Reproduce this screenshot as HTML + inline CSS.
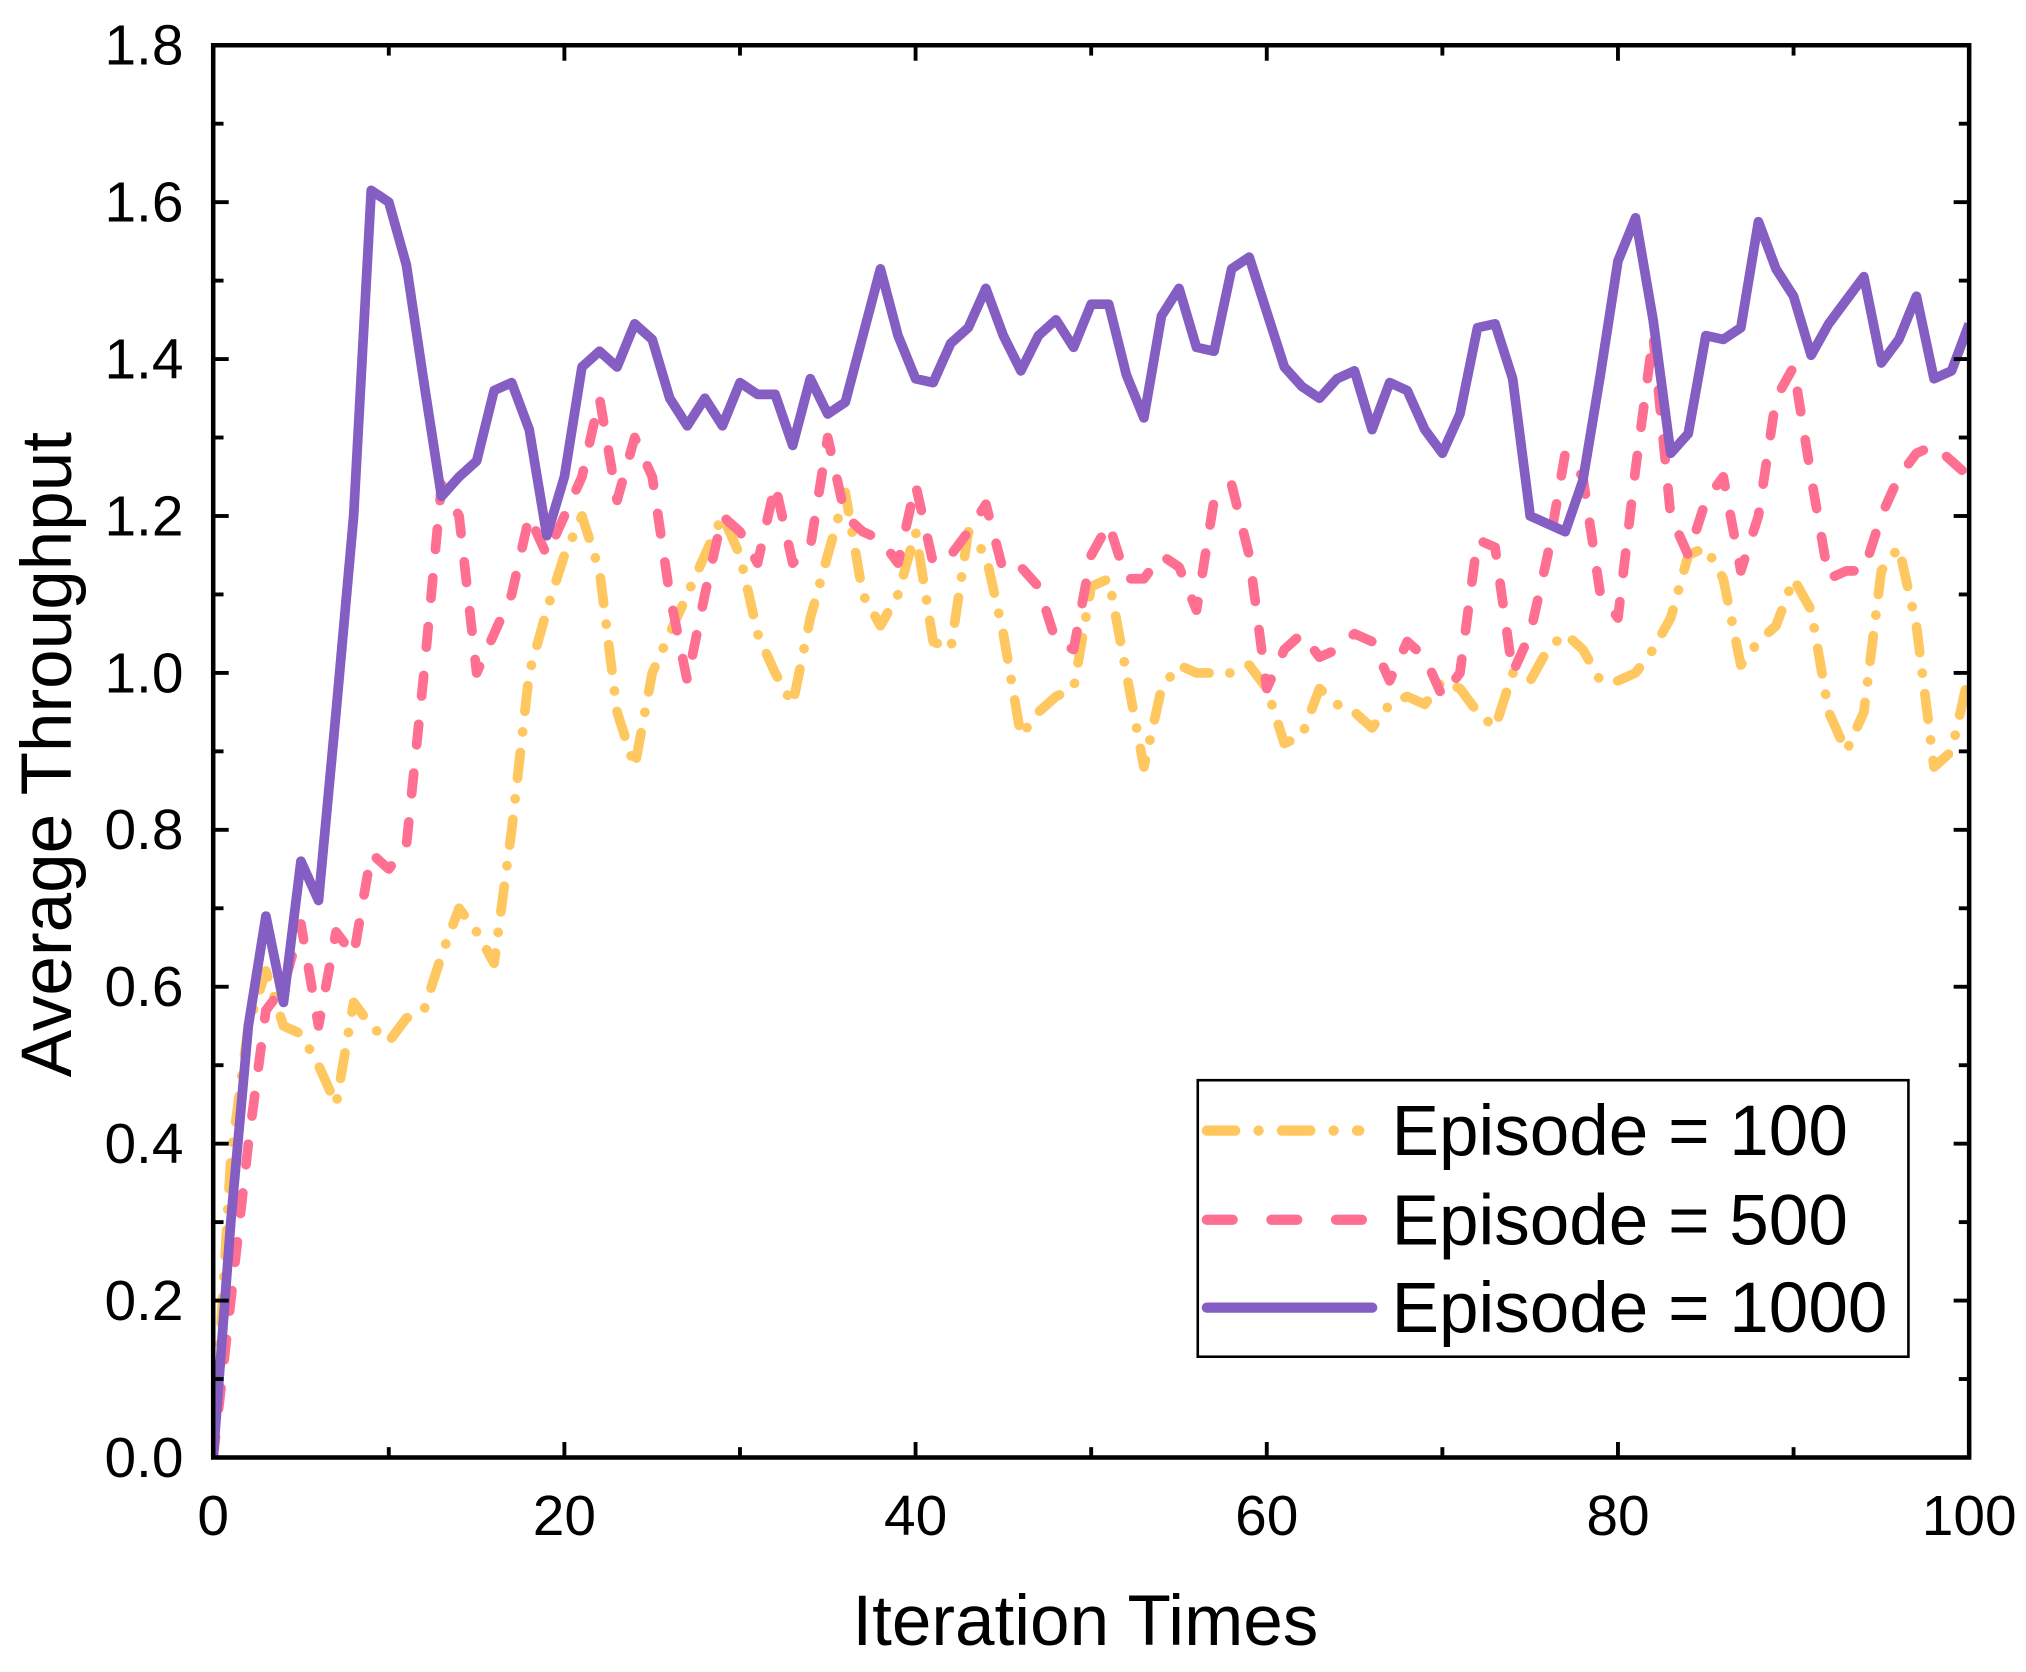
<!DOCTYPE html>
<html><head><meta charset="utf-8"><style>html,body{margin:0;padding:0;background:#fff}svg{display:block}</style></head>
<body>
<svg id="c" xmlns="http://www.w3.org/2000/svg" width="2026" height="1672" viewBox="0 0 1568 1294" font-family="Liberation Sans, Arial, sans-serif">
<rect width="1568" height="1294" fill="#fff"/>
<g id="plot"></g>
<g id="axes"></g>
<rect x="927" y="836" width="550" height="214" fill="#fff" stroke="#000" stroke-width="2"/>
<line x1="934" y1="875" x2="1052" y2="875" stroke="#FFC75F" stroke-width="8" stroke-linecap="round" stroke-dasharray="22 18 0.1 18"/>
<line x1="934" y1="944" x2="1054" y2="944" stroke="#FF6F91" stroke-width="8" stroke-linecap="round" stroke-dasharray="20 30"/>
<line x1="934" y1="1012" x2="1062" y2="1012" stroke="#845EC2" stroke-width="8" stroke-linecap="round"/>
<g font-size="55" fill="#000">
<text x="1077" y="894">Episode = 100</text>
<text x="1077" y="963">Episode = 500</text>
<text x="1077" y="1031">Episode = 1000</text>
</g>
<text x="840" y="1273" font-size="55" text-anchor="middle">Iteration Times</text>
<text transform="translate(55,584) rotate(-90)" font-size="55" text-anchor="middle">Average Throughput</text>
</svg>
<script>
var L=165,R=1524,T=35,B=1128;
function X(i){return L+(R-L)*i/100}
function Y(v){return B-(B-T)*v/1.8}
var p=[0,0.3,0.55,0.69,0.58,0.76,0.71,0.95,1.2,1.615,1.6,1.52,1.37,1.225,1.25,1.27,1.36,1.37,1.31,1.175,1.25,1.39,1.41,1.39,1.445,1.425,1.35,1.315,1.35,1.315,1.37,1.355,1.355,1.29,1.375,1.33,1.345,1.43,1.515,1.43,1.375,1.37,1.42,1.44,1.49,1.43,1.385,1.43,1.45,1.415,1.47,1.47,1.38,1.325,1.455,1.49,1.415,1.41,1.515,1.53,1.46,1.39,1.365,1.35,1.375,1.385,1.31,1.37,1.36,1.31,1.28,1.33,1.44,1.445,1.375,1.2,1.19,1.18,1.245,1.38,1.525,1.58,1.45,1.28,1.305,1.43,1.425,1.44,1.575,1.515,1.48,1.405,1.445,1.475,1.505,1.395,1.425,1.48,1.375,1.385,1.445];
var k=[0,0.2,0.4,0.57,0.6,0.68,0.55,0.67,0.64,0.77,0.75,0.78,1.0,1.24,1.2,1.0,1.05,1.1,1.2,1.15,1.2,1.25,1.35,1.22,1.3,1.25,1.1,0.99,1.1,1.2,1.18,1.14,1.24,1.14,1.16,1.3,1.2,1.18,1.17,1.14,1.24,1.14,1.15,1.18,1.215,1.13,1.135,1.11,1.04,1.03,1.15,1.19,1.12,1.12,1.15,1.135,1.08,1.22,1.24,1.15,0.98,1.03,1.05,1.02,1.03,1.05,1.04,0.99,1.04,1.02,0.97,1.0,1.17,1.16,1.0,1.05,1.15,1.28,1.25,1.1,1.07,1.26,1.43,1.2,1.15,1.22,1.25,1.13,1.2,1.35,1.39,1.25,1.12,1.13,1.13,1.2,1.25,1.28,1.29,1.27,1.25];
var y=[0,0.38,0.55,0.62,0.55,0.54,0.5,0.45,0.58,0.55,0.53,0.56,0.57,0.64,0.7,0.67,0.63,0.8,1.0,1.08,1.15,1.2,1.13,0.95,0.88,1.0,1.05,1.1,1.15,1.2,1.15,1.05,1.0,0.96,1.07,1.15,1.23,1.1,1.06,1.1,1.18,1.04,1.03,1.18,1.15,1.05,0.92,0.95,0.97,0.98,1.11,1.12,1.0,0.88,0.98,1.01,1.0,1.0,1.0,1.01,0.98,0.91,0.92,0.98,0.96,0.95,0.93,0.96,0.97,0.96,0.99,0.98,0.95,0.93,1.0,0.99,1.03,1.05,1.03,0.99,0.99,1.0,1.03,1.07,1.15,1.16,1.12,1.01,1.04,1.06,1.12,1.08,0.95,0.9,0.95,1.13,1.16,1.06,0.88,0.9,1.0];
function pl(d,c,da){return '<polyline fill="none" stroke="'+c+'" stroke-width="7.5" stroke-linejoin="round" stroke-linecap="'+(da?'round':'butt')+'"'+(da?' stroke-dasharray="'+da+'"':'')+' points="'+d.map(function(v,i){return X(i).toFixed(1)+','+Y(v).toFixed(1)}).join(' ')+'"/>'}
var ns='';
ns+='<defs><clipPath id="cp"><rect x="'+L+'" y="'+T+'" width="'+(R-L)+'" height="'+(B-T)+'"/></clipPath></defs><g clip-path="url(#cp)">';
ns+=pl(y,'#FFC75F','20 16 0.1 16');
ns+=pl(k,'#FF6F91','16 22');
ns+=pl(p,'#845EC2','');
ns+='</g>';
document.getElementById('plot').innerHTML=ns;
var a='<rect x="'+L+'" y="'+T+'" width="'+(R-L)+'" height="'+(B-T)+'" fill="none" stroke="#000" stroke-width="3.5"/>';
for(var i=0;i<=10;i++){var x=X(i*10),len=(i%2==0)?12:8;
a+='<line x1="'+x+'" y1="'+B+'" x2="'+x+'" y2="'+(B-len)+'" stroke="#000" stroke-width="3"/>';
a+='<line x1="'+x+'" y1="'+T+'" x2="'+x+'" y2="'+(T+len)+'" stroke="#000" stroke-width="3"/>';
if(i%2==0)a+='<text x="'+x+'" y="1188" font-size="44" text-anchor="middle">'+(i*10)+'</text>';}
for(var j=0;j<=18;j++){var yy=Y(j*0.1),len=(j%2==0)?12:8;
a+='<line x1="'+L+'" y1="'+yy+'" x2="'+(L+len)+'" y2="'+yy+'" stroke="#000" stroke-width="3"/>';
a+='<line x1="'+R+'" y1="'+yy+'" x2="'+(R-len)+'" y2="'+yy+'" stroke="#000" stroke-width="3"/>';
if(j%2==0)a+='<text x="142" y="'+(yy+15)+'" font-size="44" text-anchor="end">'+(j/10).toFixed(1)+'</text>';}
document.getElementById('axes').innerHTML=a;
</script>
</body></html>
